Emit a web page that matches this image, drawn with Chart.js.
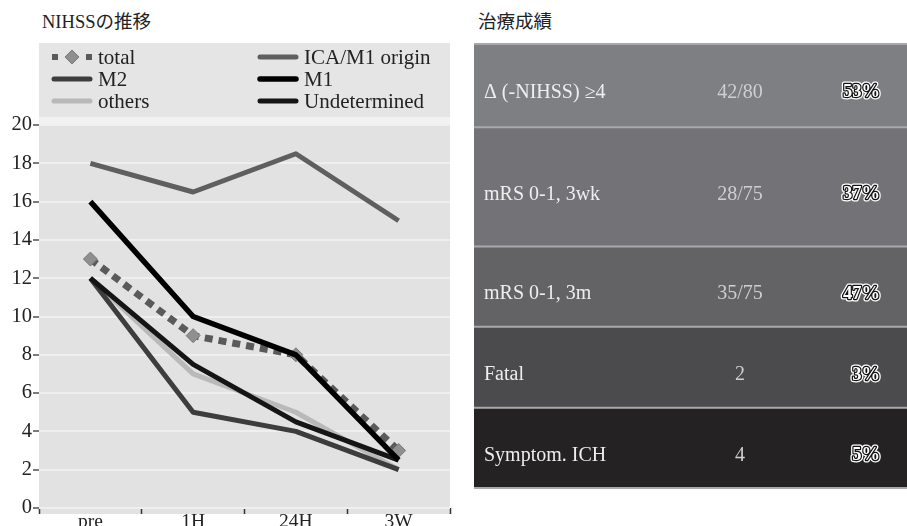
<!DOCTYPE html>
<html>
<head>
<meta charset="utf-8">
<title>NIHSSの推移・治療成績</title>
<script src="https://cdn.jsdelivr.net/npm/chart.js@4/dist/chart.umd.min.js"></script>
<style>
  html, body { margin: 0; padding: 0; background: #fff; width: 907px; height: 526px; overflow: hidden; }
  .ttl { position: absolute; top: 10px; line-height: 24px; font-size: 18.5px; font-family: "Liberation Serif", "Noto Sans CJK JP", serif; color: #222; }
  #leftWrap { position: absolute; left: 0; top: 0; width: 460px; height: 526px; }
  #rightWrap { position: absolute; left: 474px; top: 43px; width: 433px; height: 446px; }
</style>
</head>
<body>
<div class="ttl" style="left:42px">NIHSSの推移</div>
<div class="ttl" style="left:478px">治療成績</div>
<div id="leftWrap"><canvas id="nihss" width="460" height="526"></canvas></div>
<div id="rightWrap"><canvas id="outcome" width="433" height="446"></canvas></div>

<script>
// ---- NIHSS time course ----
const timepoints = ['pre', '1H', '24H', '3W'];
const yTickValues = [0, 2, 4, 6, 8, 10, 12, 14, 16, 18, 20];

const total        = [13, 9, 8, 3];
const icaM1Origin  = [18, 16.5, 18.5, 15];
const m2           = [12, 5, 4, 2];
const m1           = [16, 10, 8, 2.5];
const others       = [12, 7, 5, 2];
const undetermined = [12, 7.5, 4.5, 2.5];

// ---- Treatment outcomes ----
const outcomeLabels   = ['Δ (-NIHSS) ≥4', 'mRS 0-1, 3wk', 'mRS 0-1, 3m', 'Fatal', 'Symptom. ICH'];
const outcomeCounts   = ['42/80', '28/75', '35/75', '2', '4'];
const outcomePercents = [53, 37, 47, 3, 5];

// ---- styling ----
const SERIF = '"Liberation Serif", "Noto Sans CJK JP", serif';
const TEXT = '#222';

const lineStyles = {
  total:        { color: '#5a5a5a', width: 7, dash: [8, 6] },
  ica:          { color: '#5f5f5f', width: 5 },
  m2:           { color: '#3d3d3d', width: 5 },
  m1:           { color: '#000000', width: 5.5 },
  others:       { color: '#b9b9b9', width: 5 },
  undetermined: { color: '#151515', width: 5 }
};

const tableStyle = {
  rowWeights: [84, 119, 80, 81, 80],
  rowColors: ['#7e7f83', '#737377', '#636365', '#4b4b4d', '#242223'],
  separator: '#a9a9ab',
  labelColor: '#eeeeee',
  countColor: '#cfcfcf'
};

function lineDataset(label, data, st, order, extra) {
  return Object.assign({
    label, data, order,
    borderColor: st.color,
    backgroundColor: st.color,
    borderWidth: st.width,
    borderDash: st.dash || [],
    borderCapStyle: 'butt',
    borderJoinStyle: 'round',
    tension: 0,
    fill: false,
    pointRadius: 0,
    pointHoverRadius: 0
  }, extra || {});
}

const nihssDatasets = [
  lineDataset('total', total, lineStyles.total, 2, {
    pointStyle: 'rectRot', pointRadius: 7, pointBackgroundColor: '#8f8f8f',
    pointBorderColor: '#7a7a7a', pointBorderWidth: 1
  }),
  lineDataset('ICA/M1 origin', icaM1Origin, lineStyles.ica, 5),
  lineDataset('M2', m2, lineStyles.m2, 3),
  lineDataset('M1', m1, lineStyles.m1, 0),
  lineDataset('others', others, lineStyles.others, 4),
  lineDataset('Undetermined', undetermined, lineStyles.undetermined, 1)
];

// grey panel behind the legend and plot area
const panelPlugin = {
  id: 'panel',
  beforeDraw(chart) {
    const { ctx, chartArea: a } = chart;
    ctx.save();
    ctx.fillStyle = '#e5e5e5';
    ctx.fillRect(a.left, 43, a.right - a.left, a.top - 43);
    ctx.fillStyle = '#f2f2f2';
    ctx.fillRect(a.left, a.top - 8, a.right - a.left, 9);
    ctx.fillStyle = '#e2e2e2';
    ctx.fillRect(a.left, a.top + 1, a.right - a.left, a.bottom - a.top + 5);
    ctx.restore();
  }
};

// two-column legend inside the panel
const gridLegendPlugin = {
  id: 'gridLegend',
  afterDraw(chart) {
    const { ctx, chartArea: a } = chart;
    const ds = chart.data.datasets;
    const colX = [a.left + 13, a.left + 219];
    const rowY = [57, 79, 101];
    const symLen = 40;
    ctx.save();
    ds.forEach((d, i) => {
      const x = colX[i % 2];
      const y = rowY[Math.floor(i / 2)];
      if (d.borderDash && d.borderDash.length) {
        ctx.fillStyle = d.borderColor;
        ctx.fillRect(x, y - 3, 6, 6);
        ctx.fillRect(x + symLen - 6, y - 3, 6, 6);
        const cx = x + symLen / 2, r = 7;
        ctx.beginPath();
        ctx.moveTo(cx, y - r); ctx.lineTo(cx + r, y); ctx.lineTo(cx, y + r); ctx.lineTo(cx - r, y);
        ctx.closePath();
        ctx.fillStyle = d.pointBackgroundColor;
        ctx.fill();
        ctx.strokeStyle = d.pointBorderColor;
        ctx.lineWidth = 1;
        ctx.stroke();
      } else {
        ctx.strokeStyle = d.borderColor;
        ctx.lineWidth = d.borderWidth;
        ctx.lineCap = 'round';
        ctx.beginPath();
        ctx.moveTo(x + 2, y);
        ctx.lineTo(x + symLen - 2, y);
        ctx.stroke();
      }
      ctx.fillStyle = TEXT;
      ctx.font = '21px ' + SERIF;
      ctx.textBaseline = 'middle';
      ctx.textAlign = 'left';
      ctx.fillText(d.label, x + symLen + 6, y + 1);
    });
    ctx.restore();
  }
};

new Chart(document.getElementById('nihss'), {
  type: 'line',
  data: { labels: timepoints, datasets: nihssDatasets },
  options: {
    responsive: false,
    animation: false,
    devicePixelRatio: 1,
    layout: { padding: { top: 125, right: 10, left: 0, bottom: 0 } },
    plugins: { legend: { display: false }, tooltip: { enabled: false } },
    scales: {
      x: {
        type: 'category',
        offset: true,
        grid: { offset: true, drawOnChartArea: false, tickColor: '#333', tickLength: 6, tickWidth: 1.5 },
        border: { display: false },
        ticks: { color: TEXT, font: { family: SERIF, size: 19.5 }, padding: -4, maxRotation: 0, autoSkip: false },
        afterFit(s) { s.height = 18; }
      },
      y: {
        min: 0, max: 20,
        afterBuildTicks(s) { s.ticks = yTickValues.map(v => ({ value: v })); },
        grid: { color: '#efefef', lineWidth: 2, tickColor: '#333', tickLength: 6, tickWidth: 1.3 },
        border: { display: false },
        ticks: { color: TEXT, font: { family: SERIF, size: 20.5 }, padding: 1 },
        afterFit(s) { s.width = 39; }
      }
    }
  },
  plugins: [panelPlugin, gridLegendPlugin]
});

// ---- outcome table: one stacked column, one band per row ----
const rowTotal = tableStyle.rowWeights.reduce((s, v) => s + v, 0);

const tableTextPlugin = {
  id: 'tableText',
  afterDatasetsDraw(chart) {
    const { ctx, chartArea: a, scales } = chart;
    const y = scales.y;
    ctx.save();
    // row separators
    let cum = 0;
    const edges = [0];
    tableStyle.rowWeights.forEach(w => { cum += w; edges.push(cum); });
    ctx.strokeStyle = tableStyle.separator;
    ctx.lineWidth = 2;
    edges.forEach((e, i) => {
      let py = y.getPixelForValue(e);
      if (i === 0) py += 1;
      ctx.beginPath();
      ctx.moveTo(a.left, py);
      ctx.lineTo(a.right, py);
      ctx.stroke();
    });
    // row texts
    ctx.textBaseline = 'middle';
    outcomeLabels.forEach((label, i) => {
      const mid = (y.getPixelForValue(edges[i]) + y.getPixelForValue(edges[i + 1])) / 2 + 7.5;
      ctx.font = '20px ' + SERIF;
      ctx.textAlign = 'left';
      ctx.fillStyle = tableStyle.labelColor;
      ctx.fillText(label, a.left + 10, mid);
      ctx.textAlign = 'center';
      ctx.fillStyle = tableStyle.countColor;
      ctx.fillText(outcomeCounts[i], a.left + 266, mid);
      // outlined percentage
      const pct = outcomePercents[i] + '%';
      ctx.font = 'bold 18.5px ' + SERIF;
      ctx.textAlign = 'right';
      ctx.lineJoin = 'round';
      ctx.strokeStyle = '#ffffff';
      ctx.lineWidth = 5;
      ctx.strokeText(pct, a.left + 406, mid);
      ctx.strokeStyle = '#111111';
      ctx.lineWidth = 2.5;
      ctx.strokeText(pct, a.left + 406, mid);
      ctx.fillStyle = '#ffffff';
      ctx.fillText(pct, a.left + 406, mid);
    });
    ctx.restore();
  }
};

new Chart(document.getElementById('outcome'), {
  type: 'bar',
  data: {
    labels: ['治療成績'],
    datasets: outcomeLabels.map((label, i) => ({
      label,
      data: [tableStyle.rowWeights[i]],
      backgroundColor: tableStyle.rowColors[i],
      borderWidth: 0,
      barPercentage: 1,
      categoryPercentage: 1
    }))
  },
  options: {
    responsive: false,
    animation: false,
    devicePixelRatio: 1,
    layout: { padding: 0 },
    plugins: { legend: { display: false }, tooltip: { enabled: false } },
    scales: {
      x: { display: false, stacked: true },
      y: { display: false, stacked: true, reverse: true, min: 0, max: rowTotal + 1 }
    }
  },
  plugins: [tableTextPlugin]
});
</script>
</body>
</html>
